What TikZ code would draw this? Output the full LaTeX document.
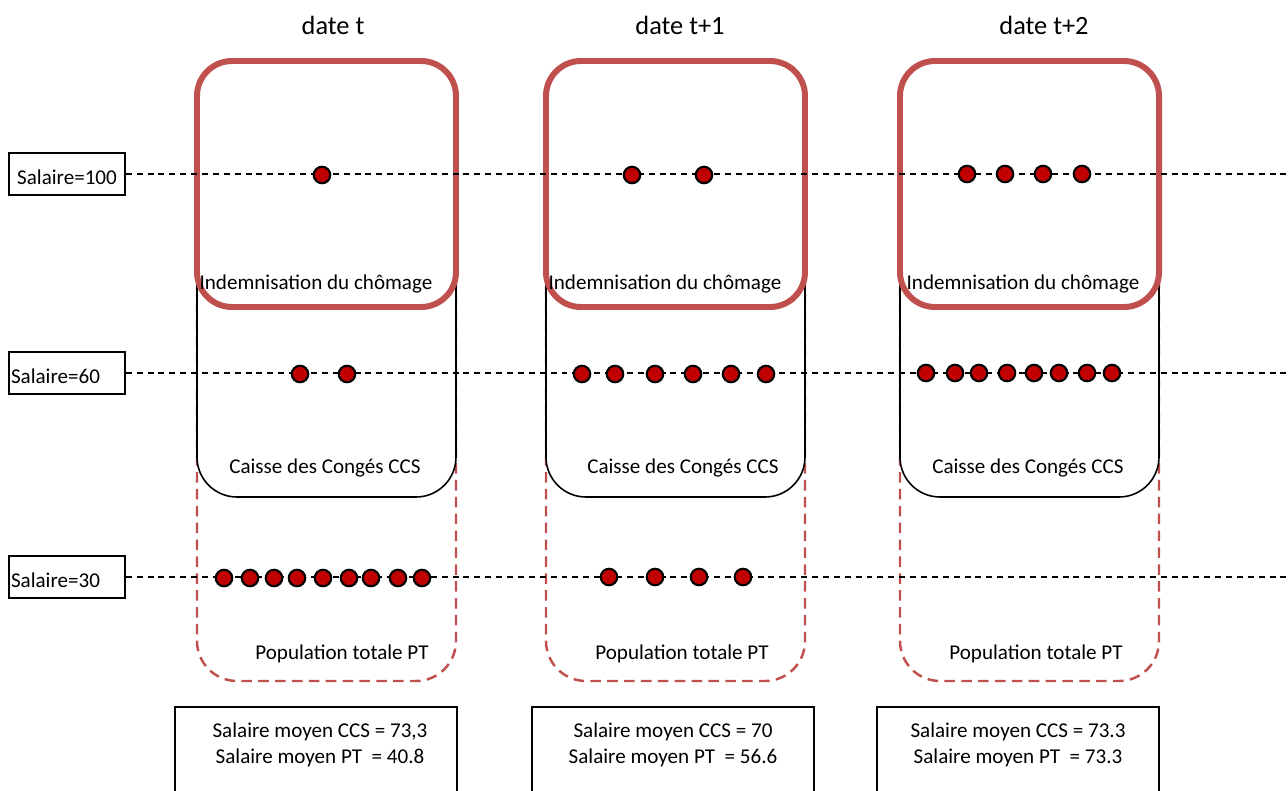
\documentclass[tikz,border=0pt]{standalone}
\usepackage{fontspec}
\setmainfont{Carlito}
\definecolor{boxred}{RGB}{192,80,77}
\definecolor{dotred}{RGB}{192,0,0}
\tikzset{
  every node/.style={font=\fontsize{12}{14.7}\selectfont},
  pers/.style={circle, draw=black, fill=dotred, line width=1.2pt, minimum size=0.33cm, inner sep=0pt},
  level/.style={draw=black, line width=0.9pt, dash pattern=on 3.4pt off 2.8pt},
  salbox/.style={draw, line width=0.9pt, text width=2.24cm, inner xsep=0.04cm, minimum height=0.84cm, align=left, text height=12.5pt, text depth=0pt},
  ptbox/.style={draw=boxred, line width=1.4pt, dash pattern=on 6pt off 3.6pt, rounded corners=0.8cm},
  ccsbox/.style={draw=black, fill=white, line width=0.9pt, rounded corners=0.8cm},
  indbox/.style={draw=boxred, fill=white, line width=3.4pt, rounded corners=0.7cm},
  sumbox/.style={draw=black, line width=0.9pt},
  datefont/.style={font=\fontsize{15}{18}\selectfont}
}
\begin{document}
\begin{tikzpicture}[x=0.02cm, y=-0.02cm]
\useasboundingbox (0,0) rectangle (1288,791);
% boxes, date t
\draw[ptbox] (197,61) rectangle (456,681);
\draw[ccsbox] (197,61) rectangle (456,497);
\draw[indbox] (197,61) rectangle (456,307);
% boxes, date t+1
\draw[ptbox] (546,61) rectangle (805,681);
\draw[ccsbox] (546,61) rectangle (805,497);
\draw[indbox] (546,61) rectangle (805,307);
% boxes, date t+2
\draw[ptbox] (900,61) rectangle (1159,681);
\draw[ccsbox] (900,61) rectangle (1159,497);
\draw[indbox] (900,61) rectangle (1159,307);
% summary boxes
\draw[sumbox] (175,707) rectangle (457,800);
\draw[sumbox] (532,707) rectangle (814,800);
\draw[sumbox] (877,707) rectangle (1159,800);
% wage levels
\node[salbox, align=center] (lab100) at (67,174) {Salaire=100};
\node[salbox] (lab60) at (67,373) {Salaire=60};
\node[salbox] (lab30) at (67,577) {Salaire=30};
\coordinate (end100) at (1290,174);
\coordinate (end60) at (1290,373);
\coordinate (end30) at (1290,577);
\draw[level] (lab100.east) -- (end100);
\draw[level] (lab60.east) -- (end60);
\draw[level] (lab30.east) -- (end30);
% dates
\node[datefont] (date1) at (333,25) {date t};
\node[datefont] (date2) at (680,25) {date t+1};
\node[datefont] (date3) at (1044,25) {date t+2};
% box labels
\node (ind1) at (316,284) {Indemnisation du chômage};
\node (ind2) at (665,284) {Indemnisation du chômage};
\node (ind3) at (1023,284) {Indemnisation du chômage};
\node (ccs1) at (325,468) {Caisse des Congés CCS};
\node (ccs2) at (683,468) {Caisse des Congés CCS};
\node (ccs3) at (1028,468) {Caisse des Congés CCS};
\node (pt1) at (342,654) {Population totale PT};
\node (pt2) at (682,654) {Population totale PT};
\node (pt3) at (1036,654) {Population totale PT};
% averages
\node[align=center] (sum1) at (320,745) {Salaire moyen CCS = 73,3\\Salaire moyen PT~ = 40.8};
\node[align=center] (sum2) at (673,745) {Salaire moyen CCS = 70\\Salaire moyen PT~ = 56.6};
\node[align=center] (sum3) at (1018,745) {Salaire moyen CCS = 73.3\\Salaire moyen PT~ = 73.3};
% persons, salaire=100
\node[pers] (h1a) at (322,175) {};
\node[pers] (h2a) at (632,175) {};
\node[pers] (h2b) at (704,175) {};
\node[pers] (h3a) at (967,174) {};
\node[pers] (h3b) at (1005,174) {};
\node[pers] (h3c) at (1043,174) {};
\node[pers] (h3d) at (1082,174) {};
% persons, salaire=60
\node[pers] (m1a) at (300,374) {};
\node[pers] (m1b) at (347,374) {};
\node[pers] (m2a) at (582,374) {};
\node[pers] (m2b) at (615,374) {};
\node[pers] (m2c) at (655,374) {};
\node[pers] (m2d) at (693,374) {};
\node[pers] (m2e) at (731,374) {};
\node[pers] (m2f) at (766,374) {};
\node[pers] (m3a) at (926,373) {};
\node[pers] (m3b) at (955,373) {};
\node[pers] (m3c) at (979,373) {};
\node[pers] (m3d) at (1007,373) {};
\node[pers] (m3e) at (1034,373) {};
\node[pers] (m3f) at (1059,373) {};
\node[pers] (m3g) at (1087,373) {};
\node[pers] (m3h) at (1112,373) {};
% persons, salaire=30
\node[pers] (l1a) at (224,578) {};
\node[pers] (l1b) at (250,578) {};
\node[pers] (l1c) at (274,578) {};
\node[pers] (l1d) at (297,578) {};
\node[pers] (l1e) at (323,578) {};
\node[pers] (l1f) at (349,578) {};
\node[pers] (l1g) at (371,578) {};
\node[pers] (l1h) at (398,578) {};
\node[pers] (l1i) at (422,578) {};
\node[pers] (l2a) at (609,577) {};
\node[pers] (l2b) at (655,577) {};
\node[pers] (l2c) at (699,577) {};
\node[pers] (l2d) at (743,577) {};
\end{tikzpicture}
\end{document}
